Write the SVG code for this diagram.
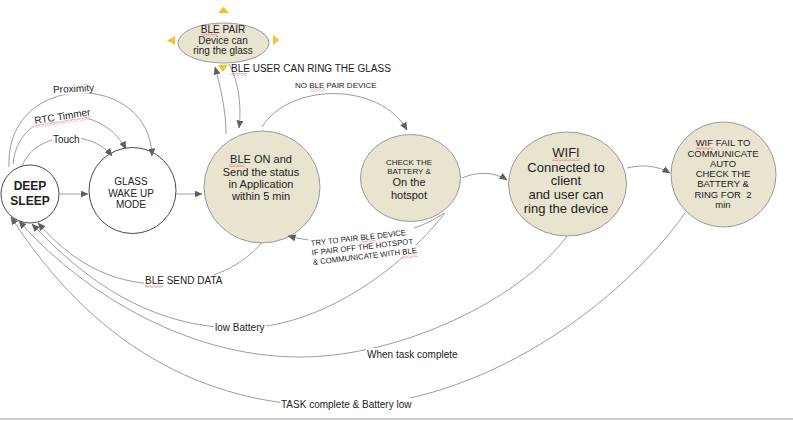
<svg xmlns="http://www.w3.org/2000/svg" width="793" height="421" viewBox="0 0 793 421">
<style>
.nw{fill:#fff;stroke:#4a4a4a;stroke-width:1}
.nb{fill:#e9e4cf;stroke:#9a9a9a;stroke-width:1}
.e{fill:none;stroke:#9c9c9c;stroke-width:1}
.a{marker-end:url(#arr)}
.t{font-family:"Liberation Sans",Arial,sans-serif;fill:#222;text-anchor:middle}
.l{font-family:"Liberation Sans",Arial,sans-serif;fill:#222}
.bg{fill:#fff}
.tri{fill:#f1c232}
.sq{fill:url(#sq)}
</style>
<defs>
<marker id="arr" viewBox="0 0 8 7" refX="7.5" refY="3.5" markerWidth="8" markerHeight="7" markerUnits="userSpaceOnUse" orient="auto"><path d="M0,0 L8,3.5 L0,7 z" fill="#5f5f5f"/></marker>
<pattern id="sq" width="4" height="3" patternUnits="userSpaceOnUse"><path d="M0,2.4 L2,0.6 L4,2.4" fill="none" stroke="#e06666" stroke-width="0.8"/></pattern>
</defs>

<g id="deep-sleep">
<circle class="nw" cx="30" cy="194" r="29"/>
<text class="t" font-size="12" font-weight="bold" fill="#111" x="30" y="190">DEEP</text>
<text class="t" font-size="12" font-weight="bold" fill="#111" x="30" y="205">SLEEP</text>
</g>
<g id="glass-wake-up">
<ellipse class="nw" cx="132.5" cy="190.5" rx="43.5" ry="43"/>
<text class="t" font-size="10" x="131" y="185">GLASS</text>
<text class="t" font-size="10" x="131" y="197">WAKE UP</text>
<text class="t" font-size="10" x="131" y="208">MODE</text>
</g>
<g id="ble-on">
<ellipse class="nb" cx="262" cy="187" rx="58" ry="56"/>
<text class="t" font-size="11" x="261" y="163">BLE ON and</text>
<text class="t" font-size="11" x="261" y="175.5">Send the status</text>
<text class="t" font-size="11" x="261" y="188">in Application</text>
<text class="t" font-size="11" x="261" y="200">within 5 min</text>
<rect class="sq" x="229" y="164" width="16" height="3"/>
</g>
<g id="ble-pair">
<ellipse class="nb" cx="223.5" cy="43" rx="45.5" ry="20"/>
<text class="t" font-size="10" x="223" y="33">BLE PAIR</text>
<text class="t" font-size="10" x="223" y="44">Device can</text>
<text class="t" font-size="10" x="223" y="54">ring the glass</text>
<rect class="sq" x="201" y="34" width="16" height="3"/>
<polygon class="tri" points="218,13 229,13 223.5,6.5"/>
<polygon class="tri" points="175,36 175,45 167,40.5"/>
<polygon class="tri" points="273,35 273,45 279.5,40"/>
<polygon class="tri" points="218,65 228,65 223,72"/>
</g>
<g id="check-battery">
<ellipse class="nb" cx="410.5" cy="178" rx="50" ry="43.5"/>
<text class="t" font-size="8" fill="#555" x="409" y="165">CHECK THE</text>
<text class="t" font-size="8" fill="#555" x="409" y="173.5">BATTERY &amp;</text>
<text class="t" font-size="11" x="409" y="186">On the</text>
<text class="t" font-size="11" x="409" y="198.5">hotspot</text>
</g>
<g id="wifi">
<ellipse class="nb" cx="567.5" cy="184" rx="59" ry="52"/>
<text class="t" font-size="13" x="566" y="157">WIFI</text>
<text class="t" font-size="13" x="566" y="171.5">Connected to</text>
<text class="t" font-size="13" x="566" y="185">client</text>
<text class="t" font-size="13" x="566" y="199">and user can</text>
<text class="t" font-size="13" x="566" y="213">ring the device</text>
<rect class="sq" x="552" y="158" width="28" height="3"/>
</g>
<g id="wifi-fail">
<circle class="nb" cx="723.5" cy="174.5" r="52.5"/>
<text class="t" font-size="9.5" fill="#333" x="723" y="146">WIF FAIL TO</text>
<text class="t" font-size="9.5" fill="#333" x="723" y="156.5">COMMUNICATE</text>
<text class="t" font-size="9.5" fill="#333" x="723" y="167">AUTO</text>
<text class="t" font-size="9.5" fill="#333" x="723" y="177">CHECK THE</text>
<text class="t" font-size="9.5" fill="#333" x="723" y="187">BATTERY &amp;</text>
<text class="t" font-size="9.5" fill="#333" x="723" y="197.5">RING FOR&#160; 2</text>
<text class="t" font-size="9.5" fill="#333" x="723" y="208">min</text>
<rect class="sq" x="696" y="147" width="17" height="3"/>
</g>

<g id="connectors">
<path class="e a" d="M9,167 C5,70 150,70 152,156"/>
<path class="e a" d="M13,164 C18,105 100,100 126,149"/>
<path class="e a" d="M22,166 C35,132 90,128 112,156"/>
<path class="e a" d="M60,194 L88,194"/>
<path class="e a" d="M176,194 L202,194"/>
<path class="e a" d="M226,134 C226,110 220,85 215,67"/>
<path class="e a" d="M229,64 C238,80 242,105 239,128"/>
<path class="e a" d="M262,127 C290,82 380,82 407,130"/>
<path class="e a" d="M462,178 C478,171 495,172 507,180"/>
<path class="e a" d="M627,168 C643,164 658,166 670,173"/>
<path class="e a" d="M444,213 C415,235 340,250 288,236"/>
<path class="e a" d="M262,242 C240,270 200,284 160,284 C110,284 70,260 38,223"/>
<path class="e a" d="M445,213 C400,270 320,328 240,328 C150,328 85,280 32,224"/>
<path class="e a" d="M567,236 C520,300 400,357 300,357 C180,357 75,285 19,221"/>
<path class="e a" d="M685,213 C620,305 480,406 340,406 C200,408 90,340 11,217"/>
</g>

<g id="labels">
<g transform="rotate(-3 74 89)"><rect class="bg" x="52" y="82" width="45" height="12"/><text class="l" font-size="10" x="53" y="92">Proximity</text></g>
<g transform="translate(35,124) rotate(-9)"><rect class="bg" x="-1" y="-9" width="58" height="12"/><text class="l" font-size="10" x="0" y="0">RTC Timmer</text><rect class="sq" x="0" y="1" width="56" height="3"/></g>
<rect class="bg" x="52" y="133" width="29" height="12"/><text class="l" font-size="10" x="53" y="142.5">Touch</text>
<rect class="bg" x="293" y="80" width="87" height="10"/><text class="l" font-size="8" x="295" y="88">NO BLE PAIR DEVICE</text><rect class="sq" x="310" y="88.5" width="15" height="3"/>
<text class="l" font-size="10" x="231" y="72">BLE USER CAN RING THE GLASS</text><rect class="sq" x="231" y="73" width="16" height="3"/>
<g transform="translate(311,246) rotate(-6.5)"><rect class="bg" x="-2" y="-8" width="106" height="29"/>
<text class="l" font-size="7.8" x="0" y="0">TRY TO PAIR BLE DEVICE</text>
<text class="l" font-size="7.8" x="0" y="9.5">IF PAIR OFF THE HOTSPOT</text>
<text class="l" font-size="7.8" x="0" y="19">&amp; COMMUNICATE WITH BLE</text>
<rect class="sq" x="50" y="1" width="15" height="3"/><rect class="sq" x="90" y="20" width="15" height="3"/></g>
<rect class="bg" x="144" y="275" width="78" height="12"/><text class="l" font-size="10" x="145" y="284">BLE SEND DATA</text><rect class="sq" x="145" y="285" width="18" height="3"/>
<rect class="bg" x="214" y="321" width="52" height="12"/><text class="l" font-size="10" x="215" y="330.5">low Battery</text>
<rect class="bg" x="366" y="348" width="97" height="12"/><text class="l" font-size="10" x="367" y="357.5">When task complete</text>
<rect class="bg" x="280" y="398" width="136" height="12"/><text class="l" font-size="10" x="281" y="407.5">TASK complete &amp; Battery low</text>
</g>
<line x1="0" y1="419" x2="793" y2="419" stroke="#bdbdbd" stroke-width="1.5"/>
</svg>
